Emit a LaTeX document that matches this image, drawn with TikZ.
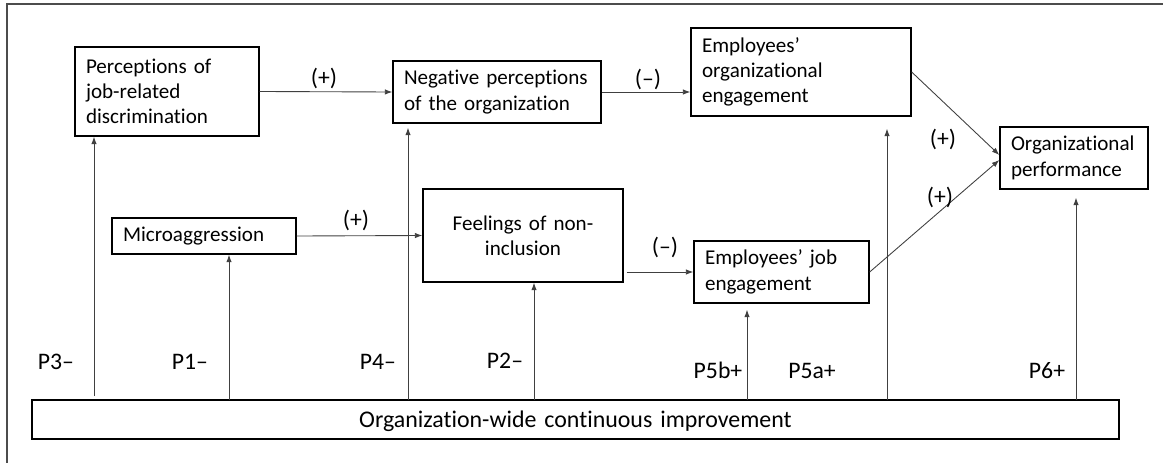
\documentclass[tikz,border=0pt]{standalone}
\usepackage{fontspec}
\setmainfont{Carlito}[Ligatures={TeX,NoCommon}]
\usetikzlibrary{arrows.meta}

\begin{document}
\begin{tikzpicture}[x=0.02cm, y=-0.02cm,
    box/.style={draw, line width=0.8pt, inner xsep=0.22cm, inner ysep=0pt,
      align=left, font=\fontsize{12}{14.4}\selectfont},
    arr/.style={-{Latex[length=1.5mm,width=1.1mm]}, line width=0.5pt, draw=black!75},
    lbl/.style={font=\fontsize{13.5}{16}\selectfont}]
  \useasboundingbox (0,0) rectangle (1163,463);
  \draw[line width=1.1pt, black!70] (7,463) -- (7,4) -- (1163,4);
  % boxes
  \node[box, text width=3.24cm, minimum height=1.78cm] (pjd) at (167,91.5) {Perceptions of\\job-related\\discrimination};
  \node[box, text width=3.72cm, minimum height=1.24cm] (npo) at (497,92) {Negative perceptions\\of the organization};
  \node[box, text width=3.96cm, minimum height=1.76cm] (eoe) at (801,72) {Employees’\\organizational\\engagement};
  \node[box, text width=2.52cm, minimum height=1.24cm] (op) at (1074,158) {Organizational\\performance};
  \node[box, text width=3.24cm, minimum height=0.72cm] (mic) at (204,236) {Microaggression};
  \node[box, text width=3.56cm, minimum height=1.86cm, align=center] (fni) at (523,235.5) {Feelings of non-\\inclusion};
  \node[box, text width=3.06cm, minimum height=1.24cm] (eje) at (781.5,272) {Employees’ job\\engagement};
  \node[box, text width=21.3cm, minimum height=0.78cm, align=center, text depth=0pt,
    font=\fontsize{13.6}{16}\selectfont] (owci) at (575.5,419.5) {Organization-wide continuous improvement};
  % feet of the vertical arrows
  \coordinate (f3) at (94,396);
  \coordinate (f1) at (229,400);
  \coordinate (f4) at (408,400);
  \coordinate (f2) at (534,400);
  \coordinate (f5b) at (747,400);
  \coordinate (f5a) at (887,400);
  \coordinate (f6) at (1076,400);
  % paths between constructs
  \begin{scope}[arr]
    \draw (pjd.east) -- (npo.west);
    \draw (npo.east) -- (npo.east -| eoe.west);
    \draw (mic.east) -- (fni.west);
    \draw[shorten <=0.06cm] (fni.east |- eje.west) -- (eje.west);
    \draw (eoe.east) -- ([yshift=0.06cm]op.west);
    \draw (eje.east) -- ([yshift=-0.04cm]op.west);
    \draw (f3) -- (f3 |- pjd.south);
    \draw (f1) -- (f1 |- mic.south);
    \draw[shorten >=0.08cm] (f4) -- (f4 |- npo.south);
    \draw (f2) -- (f2 |- fni.south);
    \draw[shorten >=0.12cm] (f5b) -- (f5b |- eje.south);
    \draw[shorten >=0.24cm] (f5a) -- (f5a |- eoe.south);
    \draw[shorten >=0.16cm] (f6) -- (f6 |- op.south);
  \end{scope}
  % signs
  \node[lbl] (s1) at (324,78) {(+)};
  \node[lbl] (s2) at (648,79) {(–)};
  \node[lbl] (s3) at (356,220) {(+)};
  \node[lbl] (s4) at (665,247) {(–)};
  \node[lbl] (s5) at (943,139) {(+)};
  \node[lbl] (s6) at (940,197) {(+)};
  % propositions
  \node[lbl, anchor=base] (p3) at (56,369) {P3–};
  \node[lbl, anchor=base] (p1) at (190,369) {P1–};
  \node[lbl, anchor=base] (p4) at (378,369) {P4–};
  \node[lbl, anchor=base] (p2) at (505,368) {P2–};
  \node[lbl, anchor=base] (p5b) at (718,378) {P5b+};
  \node[lbl, anchor=base] (p5a) at (812,378) {P5a+};
  \node[lbl, anchor=base] (p6) at (1047,378) {P6+};
\end{tikzpicture}
\end{document}
